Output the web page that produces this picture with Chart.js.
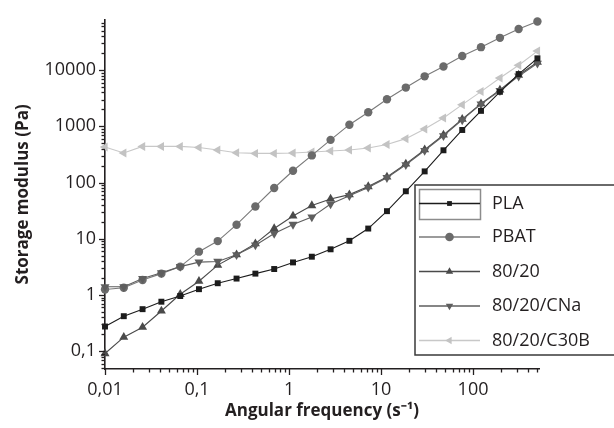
<!DOCTYPE html>
<html>
<head>
<meta charset="utf-8">
<script src="https://cdn.jsdelivr.net/npm/chart.js@4/dist/chart.umd.min.js"></script>
<style>
  html, body { margin: 0; padding: 0; background: #ffffff; overflow: hidden; }
  #wrap { width: 614px; height: 428px; position: relative; overflow: hidden; }
</style>
</head>
<body>
<div id="wrap"><canvas id="c" width="614" height="428"></canvas></div>
<script>
// Angular frequency (rad/s)
const freq = [0.01, 0.016, 0.0256, 0.041, 0.0657, 0.105, 0.168, 0.269, 0.431, 0.69,
  1.105, 1.77, 2.83, 4.53, 7.26, 11.6, 18.6, 29.8, 47.7, 76.3, 122, 196, 313, 501];
const seriesNames = ['PLA', 'PBAT', '80/20', '80/20/CNa', '80/20/C30B'];
const pla = [0.275, 0.42, 0.56, 0.76, 0.96, 1.27, 1.62, 1.96, 2.4, 2.9, 3.8, 4.8, 6.5, 9.2,
  15.2, 31, 70, 158, 375, 861, 1885, 4110, 8500, 16200];
const pbat = [1.25, 1.35, 1.85, 2.4, 3.2, 5.9, 9.1, 17.8, 37.6, 80, 162, 304, 575, 1070,
  1780, 3040, 4890, 7750, 11600, 17800, 25600, 37500, 53900, 73300];
const b8020 = [0.091, 0.178, 0.267, 0.52, 1.03, 1.76, 3.4, 5.2, 8.2, 15.2, 25.5, 39, 51, 61,
  85, 126, 215, 384, 704, 1340, 2530, 4460, 8170, 13800];
const cna = [1.4, 1.4, 1.96, 2.48, 3.2, 3.84, 3.95, 5.2, 7.7, 12.4, 18, 24.3, 41.6, 58.4,
  82, 122, 207, 372, 680, 1300, 2480, 4300, 7800, 13200];
const c30b = [428, 336, 440, 440, 440, 420, 379, 340, 330, 330, 336, 350, 364, 379,
  411, 474, 604, 897, 1410, 2430, 4150, 7240, 12200, 21800];
const xTickValues = [0.01, 0.1, 1, 10, 100];
const yTickValues = [0.1, 1, 10, 100, 1000, 10000];

const AX = '#231f20';
const FONT = "'Open Sans', 'Liberation Sans', sans-serif";

function pts(arr) { return arr.map((v, i) => ({ x: freq[i], y: v })); }

const styles = [
  { color: '#1c1c1c', line: '#1c1c1c', pointStyle: 'rect', radius: 4.2, rotation: 0 },
  { color: '#6b6b6b', line: '#7a7a7a', pointStyle: 'circle', radius: 4.2, rotation: 0 },
  { color: '#4a4a4a', line: '#4a4a4a', pointStyle: 'triangle', radius: 5.2, rotation: 0 },
  { color: '#5e5e5e', line: '#5e5e5e', pointStyle: 'triangle', radius: 5.2, rotation: 180 },
  { color: '#c3c3c3', line: '#c8c8c8', pointStyle: 'triangle', radius: 5.2, rotation: 270 }
];
const seriesData = [pla, pbat, b8020, cna, c30b];

const datasets = seriesData.map((d, i) => ({
  label: seriesNames[i],
  data: pts(d),
  borderColor: styles[i].line,
  backgroundColor: styles[i].color,
  pointBackgroundColor: styles[i].color,
  pointBorderColor: styles[i].color,
  pointBorderWidth: 0,
  borderWidth: 1.1,
  pointStyle: styles[i].pointStyle,
  pointRadius: styles[i].radius,
  pointRotation: styles[i].rotation,
  tension: 0,
  clip: false,
  order: [1, 4, 3, 2, 5][i]
}));

function fmt(v) { return String(v).replace('.', ','); }

const minorTicks = {
  id: 'minorTicks',
  afterDraw(chart) {
    const ctx = chart.ctx;
    const xs = chart.scales.x, ys = chart.scales.y;
    ctx.save();
    ctx.strokeStyle = AX;
    ctx.lineWidth = 1.3;
    for (let n = -3; n <= 5; n++) {
      for (let m = 1; m <= 9; m++) {
        const v = m * Math.pow(10, n);
        const len = m === 1 ? 6 : 3.5;
        if (v >= ys.min * 0.9999 && v <= ys.max * 1.0001) {
          const py = Math.round(ys.getPixelForValue(v)) + 0.5;
          ctx.beginPath();
          ctx.moveTo(ys.right - len, py);
          ctx.lineTo(ys.right, py);
          ctx.stroke();
        }
        if (v >= xs.min * 0.9999 && v <= xs.max * 1.0001) {
          const px = Math.round(xs.getPixelForValue(v)) + 0.5;
          ctx.beginPath();
          ctx.moveTo(px, xs.top);
          ctx.lineTo(px, xs.top + len);
          ctx.stroke();
        }
      }
    }
    ctx.restore();
  }
};

const boxLegend = {
  id: 'boxLegend',
  afterDraw(chart) {
    const ctx = chart.ctx;
    ctx.save();
    // open-ended legend frame (continues past the right edge)
    ctx.strokeStyle = '#3a3a3a';
    ctx.lineWidth = 1.5;
    ctx.beginPath();
    ctx.moveTo(chart.width + 20, 185);
    ctx.lineTo(415, 185);
    ctx.lineTo(415, 355);
    ctx.lineTo(chart.width + 20, 355);
    ctx.stroke();
    // selection box around first entry sample
    ctx.strokeStyle = '#8c8c8c';
    ctx.lineWidth = 1.5;
    ctx.strokeRect(419.5, 189.5, 61, 30);
    const ys = [203.5, 237, 271.5, 306, 340.5];
    chart.data.datasets.forEach((ds, i) => {
      const y = ys[i];
      ctx.strokeStyle = ds.borderColor;
      ctx.lineWidth = 1.3;
      ctx.beginPath();
      ctx.moveTo(419, y);
      ctx.lineTo(480, y);
      ctx.stroke();
      ctx.fillStyle = ds.pointBackgroundColor;
      ctx.strokeStyle = ds.pointBackgroundColor;
      Chart.helpers.drawPoint(ctx, {
        pointStyle: ds.pointStyle,
        rotation: ds.pointRotation,
        radius: i === 0 ? 3.4 : 4.3,
        borderWidth: 0
      }, 449.5, y);
      ctx.fillStyle = AX;
      ctx.font = "18px " + FONT;
      ctx.textBaseline = 'middle';
      ctx.textAlign = 'left';
      ctx.fillText(ds.label, 492, y);
    });
    ctx.restore();
  }
};

new Chart(document.getElementById('c'), {
  type: 'line',
  data: { datasets },
  options: {
    responsive: false,
    animation: false,
    devicePixelRatio: 1,
    layout: { padding: { top: 15, right: 75, left: 0, bottom: 0 } },
    plugins: { legend: { display: false }, tooltip: { enabled: false } },
    scales: {
      x: {
        type: 'logarithmic',
        min: 0.01,
        max: 521,
        afterFit(s) { s.height = 59; },
        afterBuildTicks(s) { s.ticks = xTickValues.map(v => ({ value: v, major: true })); },
        grid: { display: false, drawTicks: false },
        border: { display: true, color: AX, width: 1.6 },
        ticks: {
          color: AX,
          font: { family: FONT, size: 18 },
          padding: 10,
          maxRotation: 0,
          autoSkip: false,
          callback: (v) => fmt(v)
        },
        title: {
          display: true,
          text: 'Angular frequency (s\u207B\u00B9)',
          color: AX,
          font: { family: FONT, size: 17, weight: 'bold' },
          padding: { top: 0, bottom: 7 }
        }
      },
      y: {
        type: 'logarithmic',
        min: 0.0483,
        max: 78500,
        afterFit(s) { s.width = 105; },
        afterBuildTicks(s) { s.ticks = yTickValues.map(v => ({ value: v, major: true })); },
        grid: { display: false, drawTicks: false },
        border: { display: true, color: AX, width: 1.6 },
        ticks: {
          color: AX,
          font: { family: FONT, size: 18 },
          padding: 9,
          autoSkip: false,
          callback: (v) => fmt(v)
        },
        title: {
          display: true,
          text: 'Storage modulus (Pa)',
          color: AX,
          font: { family: FONT, size: 17, weight: 'bold' },
          padding: { top: 13, bottom: 0 }
        }
      }
    }
  },
  plugins: [minorTicks, boxLegend]
});
</script>
</body>
</html>
